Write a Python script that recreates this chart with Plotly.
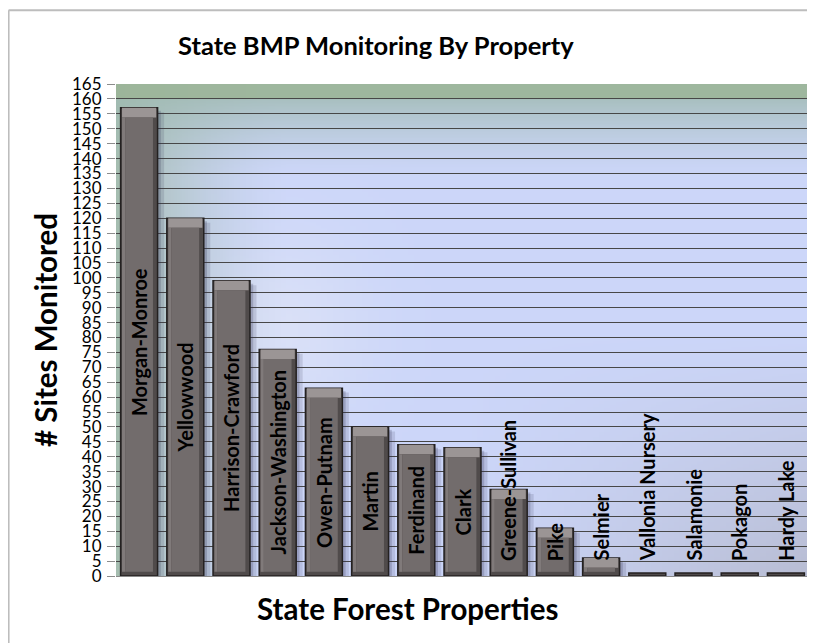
import math, zlib, struct, base64
import plotly.graph_objects as go

# ---------------- data ----------------
properties = ["Morgan-Monroe", "Yellowwood", "Harrison-Crawford", "Jackson-Washington",
              "Owen-Putnam", "Martin", "Ferdinand", "Clark", "Greene-Sullivan", "Pike",
              "Selmier", "Vallonia Nursery", "Salamonie", "Pokagon", "Hardy Lake"]
sites = [157, 120, 99, 76, 63, 50, 44, 43, 29, 16, 6, 1, 1, 1, 1]
y_ticks = list(range(0, 166, 5))

title_text = "State BMP Monitoring By Property"
x_title = "State Forest Properties"
y_title = "# Sites Monitored"

FONT = "Lato"

# ---------------- background gradient (style only) ----------------
def clamp(v):
    return max(0.0, min(1.0, v))

def mix(a, b, t):
    return tuple(a[i] + (b[i] - a[i]) * t for i in range(3))

def bg_color(xf, yf):
    c = (204, 214, 249)
    g = clamp((xf - 0.5) / 0.5) * clamp((yf - 0.5) / 0.5)
    c = mix(c, (180, 184, 204), g * 0.85)
    glow = math.exp(-(((xf - 0.24) ** 2) / 0.015 + ((yf - 0.5) ** 2) / 0.04))
    c = mix(c, (228, 232, 246), glow * 0.55)
    wl = clamp(1 - xf / 0.25) ** 1.6
    c = mix(c, (160, 186, 166), wl * 0.9)
    if yf < 5 / 165:
        c = mix(c, (156, 181, 153), 0.95)
    else:
        wt = clamp(1 - (yf - 5 / 165) / 0.16) ** 1.4
        c = mix(c, (160, 186, 178), wt * 0.8)
    return tuple(int(round(v)) for v in c)

def make_png(w, h):
    rows = []
    for j in range(h):
        yf = (j + 0.5) / h
        row = bytearray([0])
        for i in range(w):
            xf = (i + 0.5) / w
            row.extend(bg_color(xf, yf))
        rows.append(bytes(row))
    raw = b"".join(rows)

    def chunk(tag, data):
        c = struct.pack(">I", len(data)) + tag + data
        return c + struct.pack(">I", zlib.crc32(tag + data) & 0xffffffff)

    png = b"\x89PNG\r\n\x1a\n"
    png += chunk(b"IHDR", struct.pack(">IIBBBBB", w, h, 8, 2, 0, 0, 0))
    png += chunk(b"IDAT", zlib.compress(raw, 9))
    png += chunk(b"IEND", b"")
    return "data:image/png;base64," + base64.b64encode(png).decode()

bg_uri = make_png(120, 330)

# ---------------- bars ----------------
n = len(properties)
xs = list(range(n))
TOP_BEV = 3.2
BOT_BEV = 1.4

fig = go.Figure()

# soft shadow to the right
fig.add_trace(go.Bar(x=xs, y=[max(v - 1.5, 0) for v in sites], width=0.16, offset=0.38,
                     marker=dict(color="rgba(60,60,95,0.16)", line=dict(width=0)),
                     hoverinfo="skip", showlegend=False))
fig.add_trace(go.Bar(x=xs, y=[max(v - 1, 0) for v in sites], width=0.08, offset=0.39,
                     marker=dict(color="rgba(50,50,80,0.22)", line=dict(width=0)),
                     hoverinfo="skip", showlegend=False))
# outer bar body (bevel sides)
fig.add_trace(go.Bar(x=xs, y=sites, width=0.8,
                     marker=dict(color="#504b4b", line=dict(color="#242121", width=1.5)),
                     hoverinfo="x+y", showlegend=False))
# top bevel highlight
fig.add_trace(go.Bar(x=xs,
                     y=[min(TOP_BEV, max(v - BOT_BEV, 0)) for v in sites],
                     base=[v - min(TOP_BEV, max(v - BOT_BEV, 0)) for v in sites],
                     width=0.74,
                     marker=dict(color="#9b9595", line=dict(width=0)),
                     hoverinfo="skip", showlegend=False))
# left light edge
fig.add_trace(go.Bar(x=xs,
                     y=[max(v - TOP_BEV - BOT_BEV, 0) for v in sites],
                     base=[BOT_BEV] * n, width=0.07, offset=-0.37,
                     marker=dict(color="#807a7a", line=dict(width=0)),
                     hoverinfo="skip", showlegend=False))
# inner face
fig.add_trace(go.Bar(x=xs,
                     y=[max(v - TOP_BEV - BOT_BEV, 0) for v in sites],
                     base=[BOT_BEV] * n, width=0.6,
                     marker=dict(color="#726c6c", line=dict(width=0)),
                     hoverinfo="skip", showlegend=False))

# ---------------- bar labels ----------------
PX_PER_UNIT = 492 / 165
CHAR_PX = 10.2
LABEL_FLOOR = 4.4
annotations = []
for i, (name, v) in enumerate(zip(properties, sites)):
    half_len = len(name) * CHAR_PX / 2 / PX_PER_UNIT
    if v / 2 - half_len >= LABEL_FLOOR:
        ypos, yanc = v / 2, "middle"
    else:
        ypos, yanc = LABEL_FLOOR, "bottom"
    annotations.append(dict(x=i, y=ypos, xref="x", yref="y", text=name, textangle=-90,
                            showarrow=False, xanchor="center", yanchor=yanc,
                            font=dict(family=FONT, size=20, color="black", weight="bold")))

annotations += [
    dict(text=title_text, x=0.375, y=1.079, xref="paper", yref="paper", showarrow=False,
         xanchor="center", yanchor="middle",
         font=dict(family=FONT, size=25.5, color="black", weight="bold")),
    dict(text=x_title, x=0.421, y=-0.066, xref="paper", yref="paper", showarrow=False,
         xanchor="center", yanchor="middle",
         font=dict(family=FONT, size=29.5, color="black", weight="bold")),
    dict(text=y_title, x=-0.1025, y=0.5, xref="paper", yref="paper", showarrow=False,
         textangle=-90, xanchor="center", yanchor="middle",
         font=dict(family=FONT, size=29.5, color="black", weight="bold")),
]

# outer frame lines (top and left)
shapes = [
    dict(type="line", xref="paper", yref="paper", x0=-0.155, x1=1.02, y0=1.150, y1=1.150,
         line=dict(color="#bdbdbd", width=2)),
    dict(type="line", xref="paper", yref="paper", x0=-0.155, x1=-0.155, y0=1.150, y1=-0.2,
         line=dict(color="#bdbdbd", width=2)),
]

# page body adds an 8px margin, so the figure is sized/offset to compensate
fig.update_layout(
    width=807, height=635,
    margin=dict(l=108, r=6, t=76, b=67),
    paper_bgcolor="white",
    plot_bgcolor="rgba(0,0,0,0)",
    barmode="overlay",
    bargap=0.2,
    annotations=annotations,
    shapes=shapes,
    images=[dict(source=bg_uri, xref="paper", yref="paper", x=0, y=1, sizex=1, sizey=1,
                 sizing="stretch", layer="below", xanchor="left", yanchor="top")],
    xaxis=dict(range=[-0.5, n - 0.5], showticklabels=False, showgrid=False, zeroline=False,
               ticks="", showline=False, fixedrange=True),
    yaxis=dict(range=[0, 165], tickvals=y_ticks, ticktext=[str(t) for t in y_ticks],
               showgrid=True, gridcolor="#474747", gridwidth=1.4,
               zeroline=True, zerolinecolor="#8a8a8a", zerolinewidth=1.4,
               ticks="outside", ticklen=8, tickcolor="#8c8c8c", tickwidth=1,
               ticklabelstandoff=2,
               showline=False,
               tickfont=dict(family=FONT, size=17, color="black")),
)

fig.write_html("out.html")
